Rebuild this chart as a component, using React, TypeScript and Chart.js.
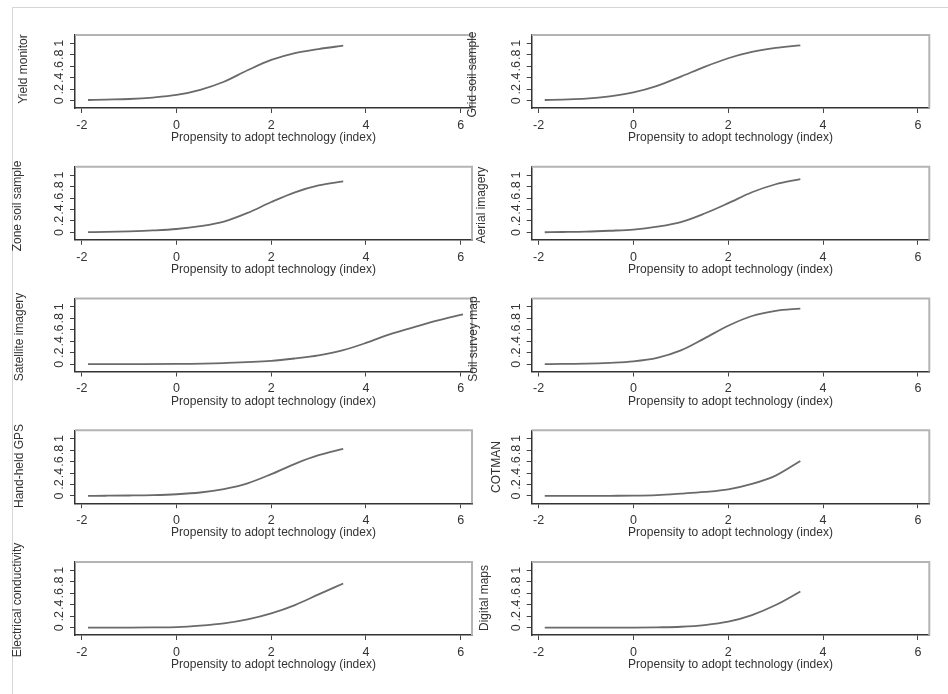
import React, { useEffect, useRef } from "react";
import { Chart, registerables } from "chart.js";

Chart.register(...registerables);

// ---------- data ----------
const panelTitles = [
  "Yield monitor",
  "Grid soil sample",
  "Zone soil sample",
  "Aerial imagery",
  "Satellite imagery",
  "Soil survey map",
  "Hand-held GPS",
  "COTMAN",
  "Electrical conductivity",
  "Digital maps",
];
const xAxisTitle = "Propensity to adopt technology (index)";
const xTickValues = [-2, 0, 2, 4, 6];
const yTickValues = [0, 0.2, 0.4, 0.6, 0.8, 1];
const yTickLabels = ["0", ".2", ".4", ".6", ".8", "1"];

const xCommon = [-1.87, -1.5, -1, -0.5, 0, 0.5, 1, 1.5, 2, 2.5, 3, 3.52];
const xSatellite = [-1.87, -1, 0, 1, 2, 2.5, 3, 3.5, 4, 4.5, 5, 5.5, 6.05];

const yieldMonitor = [0.012, 0.02, 0.03, 0.055, 0.1, 0.19, 0.33, 0.53, 0.71, 0.83, 0.9, 0.96];
const gridSoilSample = [0.012, 0.02, 0.035, 0.075, 0.145, 0.26, 0.42, 0.59, 0.74, 0.85, 0.92, 0.965];
const zoneSoilSample = [0.005, 0.01, 0.02, 0.035, 0.06, 0.11, 0.19, 0.34, 0.53, 0.7, 0.82, 0.89];
const aerialImagery = [0.004, 0.008, 0.015, 0.03, 0.05, 0.1, 0.18, 0.33, 0.51, 0.7, 0.84, 0.93];
const satelliteImagery = [0, 0.002, 0.005, 0.02, 0.057, 0.1, 0.155, 0.24, 0.37, 0.52, 0.64, 0.76, 0.87];
const soilSurveyMap = [0.002, 0.005, 0.01, 0.025, 0.05, 0.11, 0.24, 0.45, 0.67, 0.84, 0.93, 0.97];
const handHeldGps = [0.002, 0.004, 0.008, 0.015, 0.03, 0.06, 0.12, 0.22, 0.38, 0.56, 0.71, 0.82];
const cotman = [0, 0, 0.001, 0.003, 0.005, 0.015, 0.04, 0.07, 0.115, 0.21, 0.355, 0.61];
const electricalConductivity = [0, 0.001, 0.002, 0.005, 0.01, 0.035, 0.075, 0.145, 0.25, 0.395, 0.58, 0.77];
const digitalMaps = [0, 0, 0, 0, 0.002, 0.007, 0.017, 0.046, 0.105, 0.22, 0.395, 0.63];

const panelXs = [
  xCommon, xCommon, xCommon, xCommon, xSatellite,
  xCommon, xCommon, xCommon, xCommon, xCommon,
];
const panelYs = [
  yieldMonitor, gridSoilSample, zoneSoilSample, aerialImagery, satelliteImagery,
  soilSurveyMap, handHeldGps, cotman, electricalConductivity, digitalMaps,
];

// ---------- layout / style ----------
const FONT = "'Liberation Sans', Arial, Helvetica, sans-serif";
const COLS = [
  { canvasLeft: 0, width: 474, boxLeft: 75, boxRight: 472 },
  { canvasLeft: 460, width: 488, boxLeft: 531.7, boxRight: 929.3 },
];
const ROW_BOX_TOP = 35;
const ROW_STEP = 131.75;
const BOX_H = 73;
const CANVAS_PAD_TOP = 28;
const CANVAS_H = 160;
const X_AXIS_H = 37;
// page coordinates of rotated y-title centres
const TITLE_POS: [number, number][] = [
  [24, 69], [473, 74.5],
  [18, 206], [482, 205],
  [20, 337], [474, 339],
  [20, 466], [497, 467],
  [18, 600], [485, 598],
];

function Panel({ index }: { index: number }) {
  const ref = useRef<HTMLCanvasElement | null>(null);
  const col = COLS[index % 2];
  const row = Math.floor(index / 2);
  const boxTop = ROW_BOX_TOP + ROW_STEP * row;
  const canvasTop = Math.floor(boxTop) - CANVAS_PAD_TOP;
  const padTop = boxTop - canvasTop;
  const boxBottomInCanvas = boxTop + BOX_H - canvasTop;

  useEffect(() => {
    if (!ref.current) return;
    const xs = panelXs[index];
    const ys = panelYs[index];
    const data = xs.map((x, i) => ({ x, y: ys[i] }));
    const [tx, ty] = TITLE_POS[index];

    const titlePlugin = {
      id: "yTitle",
      afterDraw(chart: any) {
        const ctx = chart.ctx;
        ctx.save();
        ctx.translate(tx - col.canvasLeft, ty - canvasTop);
        ctx.rotate(-Math.PI / 2);
        ctx.font = `12px ${FONT}`;
        ctx.fillStyle = "#333";
        ctx.textAlign = "center";
        ctx.textBaseline = "middle";
        ctx.fillText(panelTitles[index], 0, 0);
        ctx.restore();
      },
    };
    const edgePlugin = {
      id: "boxEdges",
      beforeDatasetsDraw(chart: any) {
        const { ctx, chartArea } = chart;
        const { left, right, top, bottom } = chartArea;
        ctx.save();
        ctx.strokeStyle = "#b4b4b4";
        ctx.lineWidth = 2;
        ctx.beginPath();
        ctx.moveTo(left, top);
        ctx.lineTo(right, top);
        ctx.lineTo(right, bottom);
        ctx.stroke();
        ctx.restore();
      },
    };

    const chart = new Chart(ref.current, {
      type: "line",
      data: {
        datasets: [
          {
            data,
            borderColor: "#6a6a6a",
            borderWidth: 1.8,
            pointRadius: 0,
            fill: false,
            cubicInterpolationMode: "monotone",
          },
        ],
      },
      options: {
        animation: false,
        responsive: false,
        events: [],
        layout: {
          padding: {
            left: 0,
            right: col.width - (col.boxRight - col.canvasLeft),
            top: padTop,
            bottom: CANVAS_H - boxBottomInCanvas - X_AXIS_H,
          },
        },
        plugins: { legend: { display: false }, tooltip: { enabled: false }, title: { display: false } },
        scales: {
          x: {
            type: "linear",
            position: "bottom",
            min: -2.145,
            max: 6.24,
            afterBuildTicks: (s: any) => {
              s.ticks = xTickValues.map((v) => ({ value: v }));
            },
            afterFit: (s: any) => {
              s.height = X_AXIS_H;
            },
            ticks: {
              autoSkip: false,
              minRotation: 0,
              maxRotation: 0,
              padding: 5,
              color: "#333",
              font: { family: FONT, size: 12.5 },
              callback: (v: any) => String(v),
            },
            grid: { drawOnChartArea: false, drawTicks: true, tickLength: 5, color: "#444", lineWidth: 1 },
            border: { display: true, color: "#333", width: 1.5 },
            title: {
              display: true,
              text: xAxisTitle,
              color: "#333",
              font: { family: FONT, size: 12 },
              padding: { top: 0, bottom: 0 },
            },
          },
          y: {
            type: "linear",
            position: "left",
            min: -0.127,
            max: 1.145,
            afterBuildTicks: (s: any) => {
              s.ticks = yTickValues.map((v) => ({ value: v }));
            },
            afterFit: (s: any) => {
              s.width = col.boxLeft - col.canvasLeft;
            },
            ticks: {
              autoSkip: false,
              minRotation: 90,
              maxRotation: 90,
              crossAlign: "center",
              padding: 5,
              color: "#333",
              font: { family: FONT, size: 12.5 },
              callback: (v: any) => {
                const i = yTickValues.findIndex((t) => Math.abs(t - v) < 1e-9);
                return i >= 0 ? yTickLabels[i] : "";
              },
            },
            grid: { drawOnChartArea: false, drawTicks: true, tickLength: 5, color: "#444", lineWidth: 1 },
            border: { display: true, color: "#333", width: 1.5 },
            title: { display: false },
          },
        },
      } as any,
      plugins: [edgePlugin, titlePlugin],
    });
    return () => chart.destroy();
  }, [index]);

  return (
    <canvas
      ref={ref}
      width={col.width}
      height={CANVAS_H}
      style={{
        position: "absolute",
        left: col.canvasLeft,
        top: canvasTop,
        width: col.width,
        height: CANVAS_H,
      }}
    />
  );
}

export default function App() {
  return (
    <div
      style={{
        position: "fixed",
        left: 0,
        top: 0,
        width: 948,
        height: 694,
        background: "#ffffff",
        overflow: "hidden",
        fontFamily: FONT,
      }}
    >
      <div
        style={{
          position: "absolute",
          left: 12,
          top: 7,
          width: 940,
          height: 700,
          borderLeft: "1px solid #d6d6d6",
          borderTop: "1px solid #d6d6d6",
        }}
      />
      {panelTitles.map((_, i) => (
        <Panel key={i} index={i} />
      ))}
    </div>
  );
}
